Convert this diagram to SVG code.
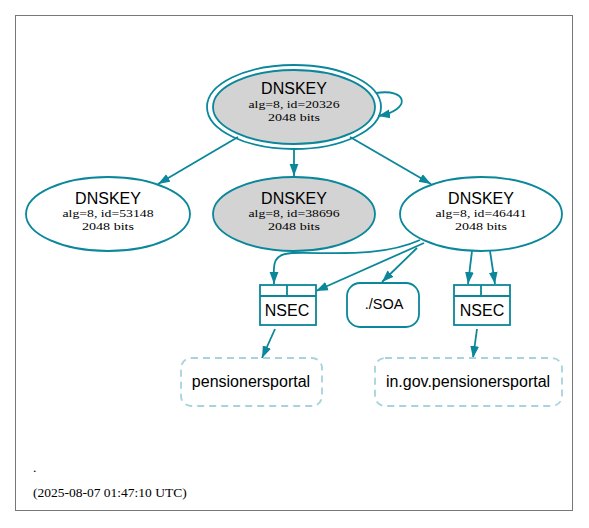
<svg xmlns="http://www.w3.org/2000/svg" width="589" height="528" viewBox="0 0 589 528">
<defs>
<marker id="ah" viewBox="0 0 12 10" refX="12" refY="5" markerWidth="12" markerHeight="10" markerUnits="userSpaceOnUse" orient="auto">
<path d="M0,0.6 L12,5 L0,9.4 Z" fill="#0a879a"/>
</marker>
</defs>
<style>
.e{fill:none;stroke:#0a879a;stroke-width:1.8;marker-end:url(#ah)}
.n{stroke:#0a879a;stroke-width:1.8}
.t1{font-family:"Liberation Sans",Arial,sans-serif;font-size:16px;text-anchor:middle;fill:#000}
.t2{font-family:"Liberation Serif","Times New Roman",serif;font-size:11px;text-anchor:middle;fill:#000}
.d{fill:none;stroke:#a6d3dc;stroke-width:1.8;stroke-dasharray:7,5}
</style>
<rect x="0" y="0" width="589" height="528" fill="#fff"/>
<rect x="15.5" y="15.5" width="557" height="495" fill="none" stroke="#777" stroke-width="1"/>
<g id="connectors">
<path class="e" d="M376,93 C408,88 412,110 378,116"/>
<path class="e" d="M238,137 L158,184"/>
<path class="e" d="M294,149 L294,176"/>
<path class="e" d="M350,137 L431,184"/>
<path class="e" d="M420,240 C380,258 330,252 292,253 C270,254 274,268 274,284"/>
<path class="e" d="M424,243 L316,291"/>
<path class="e" d="M417,248 L382,282"/>
<path class="e" d="M472,251 L468,284"/>
<path class="e" d="M490,251 L495,284"/>
<path class="e" d="M275,329 L262,358"/>
<path class="e" d="M477,329 L473,358"/>
</g>
<g id="ksk20326">
<ellipse cx="294" cy="107" rx="87" ry="42" fill="none" class="n"/>
<ellipse cx="294" cy="107" rx="81" ry="37" fill="#d3d3d3" class="n"/>
<text class="t1" x="294" y="94">DNSKEY</text>
<text class="t2" x="294" y="108" textLength="91" lengthAdjust="spacingAndGlyphs">alg=8, id=20326</text>
<text class="t2" x="294" y="120.5" textLength="52" lengthAdjust="spacingAndGlyphs">2048 bits</text>
</g>
<g id="key53148">
<ellipse cx="108" cy="214" rx="82" ry="37" fill="#fff" class="n"/>
<text class="t1" x="108" y="204">DNSKEY</text>
<text class="t2" x="108" y="217" textLength="91" lengthAdjust="spacingAndGlyphs">alg=8, id=53148</text>
<text class="t2" x="108" y="229.5" textLength="52" lengthAdjust="spacingAndGlyphs">2048 bits</text>
</g>
<g id="key38696">
<ellipse cx="294" cy="214" rx="81" ry="37" fill="#d3d3d3" class="n"/>
<text class="t1" x="294" y="204">DNSKEY</text>
<text class="t2" x="294" y="217" textLength="91" lengthAdjust="spacingAndGlyphs">alg=8, id=38696</text>
<text class="t2" x="294" y="229.5" textLength="52" lengthAdjust="spacingAndGlyphs">2048 bits</text>
</g>
<g id="key46441">
<ellipse cx="481" cy="214" rx="81" ry="37" fill="#fff" class="n"/>
<text class="t1" x="481" y="204">DNSKEY</text>
<text class="t2" x="481" y="217" textLength="91" lengthAdjust="spacingAndGlyphs">alg=8, id=46441</text>
<text class="t2" x="481" y="229.5" textLength="52" lengthAdjust="spacingAndGlyphs">2048 bits</text>
</g>
<g id="nsec1">
<rect x="260" y="285" width="56" height="40" fill="#fff" class="n"/>
<line x1="260" y1="296" x2="316" y2="296" class="n"/>
<line x1="287" y1="285" x2="287" y2="296" class="n"/>
<text class="t1" x="287" y="316">NSEC</text>
</g>
<g id="soa">
<rect x="347" y="283" width="72" height="44" rx="13" fill="#fff" class="n"/>
<text class="t1" x="384" y="308.5" style="font-size:14.5px">./SOA</text>
</g>
<g id="nsec2">
<rect x="454" y="285" width="56" height="40" fill="#fff" class="n"/>
<line x1="454" y1="296" x2="510" y2="296" class="n"/>
<line x1="481" y1="285" x2="481" y2="296" class="n"/>
<text class="t1" x="482" y="316">NSEC</text>
</g>
<g id="pensionersportal">
<rect x="181" y="358" width="141" height="48" rx="10" class="d"/>
<text class="t1" x="251" y="387">pensionersportal</text>
</g>
<g id="ingovpensionersportal">
<rect x="375" y="358" width="187" height="48" rx="10" class="d"/>
<text class="t1" x="468" y="387">in.gov.pensionersportal</text>
</g>
<text font-family="Liberation Serif,serif" font-size="13.5" x="33" y="472">.</text>
<text font-family="Liberation Serif,serif" font-size="13.5" x="33" y="497">(2025-08-07 01:47:10 UTC)</text>
</svg>
